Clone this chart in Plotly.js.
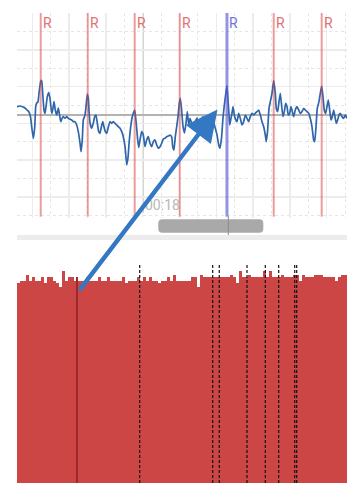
<!DOCTYPE html>
<html>
<head>
<meta charset="utf-8">
<script src="https://cdn.plot.ly/plotly-3.0.1.min.js"></script>
<style>
html,body{margin:0;padding:0;background:#fff;}
#chart{width:347px;height:483px;}
</style>
</head>
<body>
<div id="chart"></div>
<script>
// ---- ECG strip (time in s, amplitude in mV) ----
const ecgTime = [
16.292,16.333,16.374,16.401,16.428,16.455,16.476,16.492,16.514,16.533,
16.546,16.560,16.577,16.591,16.614,16.628,16.641,16.659,16.673,16.686,
16.704,16.723,16.740,16.764,16.777,16.795,16.812,16.832,16.853,16.867,
16.886,16.904,16.921,16.944,16.967,16.989,17.012,17.035,17.057,17.080,
17.103,17.125,17.148,17.162,17.179,17.193,17.216,17.230,17.247,17.261,
17.270,17.284,17.307,17.329,17.348,17.365,17.383,17.402,17.420,17.438,
17.457,17.474,17.492,17.511,17.533,17.556,17.579,17.601,17.624,17.647,
17.668,17.692,17.715,17.736,17.760,17.783,17.800,17.818,17.837,17.855,
17.872,17.891,17.905,17.918,17.932,17.946,17.963,17.986,18.008,18.031,
18.054,18.076,18.099,18.122,18.144,18.167,18.190,18.212,18.235,18.258,
18.280,18.303,18.326,18.348,18.371,18.394,18.408,18.425,18.443,18.462,
18.480,18.497,18.511,18.527,18.548,18.568,18.588,18.606,18.625,18.643,
18.666,18.688,18.711,18.738,18.765,18.792,18.819,18.846,18.874,18.901,
18.928,18.955,18.982,19.010,19.033,19.050,19.071,19.091,19.111,19.132,
19.145,19.159,19.173,19.182,19.200,19.213,19.227,19.245,19.264,19.281,
19.304,19.326,19.349,19.372,19.394,19.417,19.440,19.462,19.485,19.508,
19.530,19.553,19.576,19.598,19.621,19.644,19.666,19.679,19.698,19.716,
19.734,19.757,19.780,19.802,19.815,19.834,19.852,19.870,19.889,19.906,
19.924,19.943,19.961,19.978,19.997,20.015,20.033,20.052,20.073,20.096,
20.120,20.141,20.164,20.188,20.209,20.232,20.255,20.277,20.300,20.323,
20.337,20.355,20.372,20.395,20.413,20.432,20.450,20.467,20.486,20.504,
20.522,20.541,20.558,20.576,20.595,20.613,20.630,20.649,20.667,20.685,
20.708,20.731,20.753,20.776];
const ecgMv = [
0.226,0.245,0.218,0.191,0.136,0.082,-0.054,-0.327,-0.640,-0.327,
0.218,0.327,0.354,0.599,0.913,0.940,0.599,0.136,0.046,0.226,
0.499,0.608,0.463,0.046,0.136,0.362,0.136,0,0.191,0.046,
-0.183,-0.090,-0.046,-0.090,-0.046,-0.090,-0.117,-0.136,-0.183,-0.183,
-0.272,-0.455,-0.763,-1.000,-0.681,-0.136,0,0.226,0.572,0.463,
0.136,-0.218,-0.362,-0.218,-0.046,0,-0.218,-0.455,-0.499,-0.327,
-0.183,-0.327,-0.455,-0.499,-0.327,-0.183,-0.226,-0.183,-0.226,-0.272,
-0.319,-0.362,-0.455,-0.591,-0.864,-1.362,-1.172,-0.681,-0.319,-0.082,
0.046,0.136,-0.082,-0.362,-0.681,-0.886,-0.681,-0.455,-0.545,-0.864,
-0.681,-0.591,-0.771,-0.864,-0.728,-0.681,-0.817,-0.907,-0.864,-0.771,
-0.654,-0.635,-0.591,-0.572,-0.545,-0.599,-0.864,-0.954,-0.591,-0.319,
-0.046,0.319,0.455,0.183,-0.319,-0.490,-0.226,0.090,-0.272,-0.090,
-0.226,-0.319,-0.191,-0.082,-0.272,-0.136,-0.054,-0.191,-0.354,-0.136,
-0.027,-0.136,-0.327,-0.545,-0.817,-0.907,-0.627,-0.082,0.300,0.627,
0.804,0.409,0,-0.272,-0.090,0.046,0.226,0,-0.136,-0.183,
0.046,-0.090,-0.272,-0.183,0,-0.090,-0.183,-0.046,0.046,0,
0.046,0.090,0.136,0,-0.183,-0.319,-0.545,-0.728,-0.409,0.183,
0.362,0.591,0.935,0.591,0.183,0.090,0.362,0.591,0.226,-0.046,
0.090,0.319,0.226,0,0.046,0.226,0.090,-0.046,0.136,0.226,
0.136,0.046,0.090,0.183,0.136,0.090,0.046,-0.090,-0.319,-0.681,
-0.728,-0.319,0.183,0.362,0.591,0.790,0.499,0.136,0.046,0.226,
0.409,0.136,-0.136,-0.046,0.136,-0.046,-0.226,-0.136,0,0.046,
-0.046,-0.090,0,-0.090];

// R-peak annotations (s) and the selected beat
const rPeakTimes = [16.614, 17.253, 17.891, 18.503, 19.145, 19.780, 20.432];
const rPeakLabel = 'R';
const selectedPeak = 4;
const cursorTime = 18.0;
const cursorLabel = '00:18';

// ---- Beat histogram (bottom) ----
const beatValues = [
100,101,101,104,101,103,101,101,103,100,
103,103,101,100,98,106,101,103,103,101,
101,101,101,103,101,101,101,103,101,101,
103,101,101,101,101,103,100,101,101,101,
103,101,103,101,103,101,101,100,101,101,
103,101,104,101,101,101,101,101,103,103,
98,104,103,103,103,103,103,103,103,103,
103,104,103,100,106,103,103,104,103,103,
103,103,106,103,106,103,103,103,104,103,
103,103,104,104,101,104,103,103,103,104,
104,104,103,103,103,103,101,103,104,104];
const selectedBeatPos = 19.5;
const markedBeatPos = [40.4, 64.73, 66.93, 76.17, 82.27, 86.73, 92.07, 92.73];

// ---- layout helpers (pixel -> paper) ----
const W = 347, H = 483;
const PX = x => x / W;
const PY = y => 1 - y / H;
const pt = (x, y) => PX(x).toFixed(5) + ',' + PY(y).toFixed(5);

const yTop = 2.779, yBot = -2.807;

const traces = [
  {
    type: 'scatter', mode: 'lines', x: ecgTime, y: ecgMv,
    xaxis: 'x', yaxis: 'y',
    line: {color: '#2f66ab', width: 1.7, shape: 'spline', smoothing: 0.4},
    hoverinfo: 'skip', showlegend: false
  },
  {
    type: 'bar', x: beatValues.map((_, i) => i), y: beatValues,
    xaxis: 'x2', yaxis: 'y2',
    marker: {color: '#cd4646', line: {width: 0}},
    hoverinfo: 'skip', showlegend: false
  }
];

const shapes = [];
// cursor time line
shapes.push({type: 'line', xref: 'x', yref: 'y', x0: cursorTime, x1: cursorTime, y0: -2.67, y1: yTop,
  line: {color: '#a0a0a0', width: 1.5}, layer: 'below'});
// R lines
rPeakTimes.forEach((t, i) => {
  const sel = i === selectedPeak;
  shapes.push({
    type: 'line', xref: 'x', yref: 'y', x0: t, x1: t, y0: -2.77, y1: yTop,
    line: {color: sel ? 'rgba(90,90,215,0.65)' : 'rgba(215,60,60,0.5)', width: sel ? 3 : 2},
    layer: 'above'
  });
});
// light band under the strip
shapes.push({type: 'rect', xref: 'paper', yref: 'paper', x0: PX(17), x1: PX(347), y0: PY(240), y1: PY(235),
  fillcolor: '#ececec', line: {width: 0}});
// scrollbar thumb (rounded)
(function(){
  const x0 = 158.3, x1 = 263.3, y0 = 219.3, y1 = 232.7, r = 4;
  const d = 'M' + pt(x0 + r, y0) + 'L' + pt(x1 - r, y0) + 'Q' + pt(x1, y0) + ' ' + pt(x1, y0 + r) +
    'L' + pt(x1, y1 - r) + 'Q' + pt(x1, y1) + ' ' + pt(x1 - r, y1) +
    'L' + pt(x0 + r, y1) + 'Q' + pt(x0, y1) + ' ' + pt(x0, y1 - r) +
    'L' + pt(x0, y0 + r) + 'Q' + pt(x0, y0) + ' ' + pt(x0 + r, y0) + 'Z';
  shapes.push({type: 'path', xref: 'paper', yref: 'paper', path: d, fillcolor: '#a9a9a9', line: {width: 0}});
})();
// thin cursor line through scrollbar
shapes.push({type: 'line', xref: 'paper', yref: 'paper', x0: PX(228.3), x1: PX(228.3), y0: PY(216), y1: PY(235),
  line: {color: '#8a8a8a', width: 1}});
// bottom: selected beat and marked beats
shapes.push({type: 'line', xref: 'x2', yref: 'y2', x0: selectedBeatPos, x1: selectedBeatPos, y0: 0, y1: 103,
  line: {color: '#9b2a2a', width: 2}, layer: 'above'});
markedBeatPos.forEach(p => {
  shapes.push({type: 'line', xref: 'x2', yref: 'y2', x0: p, x1: p, y0: 0, y1: 110,
    line: {color: '#111', width: 1.2, dash: '3px,2px'}, layer: 'above'});
});

const annotations = [];
rPeakTimes.forEach((t, i) => {
  annotations.push({
    xref: 'x', yref: 'paper', x: t, y: PY(23.5), xanchor: 'left', yanchor: 'middle',
    text: rPeakLabel, showarrow: false, xshift: 0,
    font: {family: 'Roboto', size: 14, color: i === selectedPeak ? '#7272dd' : '#e07272'}
  });
});
annotations.push({
  xref: 'x', yref: 'paper', x: cursorTime, y: PY(205), xanchor: 'left', yanchor: 'middle',
  text: cursorLabel, showarrow: false, xshift: 0,
  font: {family: 'Roboto', size: 14, color: '#b8b8b8'}
});
// arrow linking selected beat to selected R peak
annotations.push({
  xref: 'paper', yref: 'paper', x: PX(217.5), y: PY(109.5), ax: 78.3 - 217.5, ay: 291.7 - 109.5,
  axref: 'pixel', ayref: 'pixel', text: '', showarrow: true,
  arrowhead: 2, arrowsize: 1.4, arrowwidth: 4.5, arrowcolor: '#3478c3', standoff: 0
});

const grid = {gridcolor: '#ececec', gridwidth: 1.5};
const layout = {
  width: W, height: H,
  margin: {l: 0, r: 0, t: 0, b: 0},
  paper_bgcolor: '#fff', plot_bgcolor: '#fff',
  showlegend: false, bargap: 0,
  font: {family: 'Roboto'},
  xaxis: Object.assign({
    domain: [PX(17), 1], anchor: 'y', range: [16.292, 20.776],
    tick0: 16.5, dtick: 0.5, showgrid: true, zeroline: false, showticklabels: false, ticks: '', showline: false,
    minor: {tick0: 16.25, dtick: 0.25, showgrid: true, gridcolor: '#e6e6e6', griddash: 'dot', gridwidth: 1}
  }, grid),
  yaxis: Object.assign({
    domain: [PY(218), PY(13)], anchor: 'x', range: [yBot, yTop],
    tick0: 0.771, dtick: 1, showgrid: true, showticklabels: false, ticks: '', showline: false,
    zeroline: true, zerolinecolor: '#b3b3b3', zerolinewidth: 2,
    minor: {tick0: 0.271, dtick: 0.5, showgrid: true, gridcolor: '#e6e6e6', griddash: 'dot', gridwidth: 1}
  }, grid),
  xaxis2: {domain: [PX(17), 1], anchor: 'y2', range: [-0.5, 109.5], showgrid: false, zeroline: false,
    showticklabels: false, ticks: '', showline: false},
  yaxis2: {domain: [0, PY(263)], anchor: 'x2', range: [0, 110], showgrid: false, zeroline: false,
    showticklabels: false, ticks: '', showline: false},
  shapes: shapes,
  annotations: annotations
};

Plotly.newPlot('chart', traces, layout, {staticPlot: true, displayModeBar: false});
</script>
</body>
</html>
